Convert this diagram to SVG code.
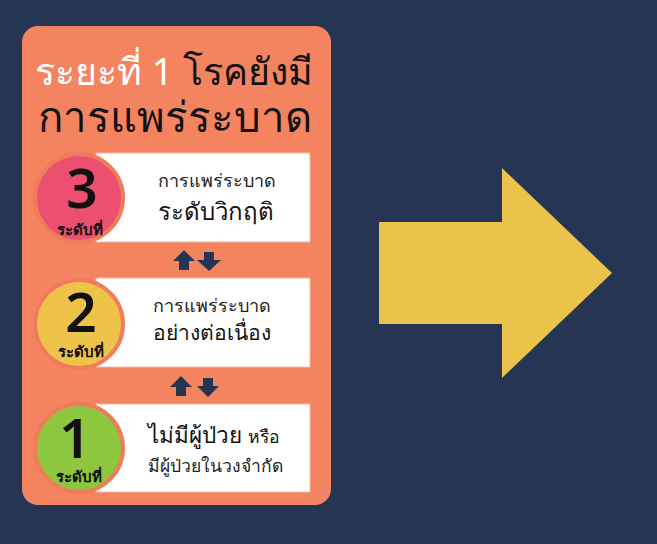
<svg xmlns="http://www.w3.org/2000/svg" width="657" height="544" viewBox="0 0 657 544">
<style>
text{font-family:"Noto Sans","Noto Sans CJK SC",sans-serif;}
.box{fill:#ffffff;stroke:#f7b8a0;stroke-width:1;}
.ring{stroke:#f07c5a;stroke-width:4;}
.num{font-size:55px;font-weight:600;fill:#111111;text-anchor:middle;}
.lvl{font-size:15px;font-weight:600;fill:#111111;text-anchor:middle;}
.t1{font-size:18px;fill:#222222;}
.t2{font-size:24px;fill:#111111;}
.sm{fill:#243452;}
</style>
<rect width="657" height="544" fill="#253553"/>
<g id="panel">
<rect x="22" y="26" width="309" height="479" rx="16" fill="#f4845f"/>
<text x="35" y="85" font-size="37.5" fill="#ffffff">ระยะที่ 1 <tspan fill="#111111">โรคยังมี</tspan></text>
<text x="38" y="132" font-size="42" fill="#111111">การแพร่ระบาด</text>
</g>
<g id="level3">
<rect class="box" x="96" y="153" width="214" height="89"/>
<circle class="ring" cx="79" cy="198" r="44" fill="#ec4f70"/>
<text class="num" x="82" y="208">3</text>
<text class="lvl" x="80" y="235">ระดับที่</text>
<text class="t1" x="158" y="187">การแพร่ระบาด</text>
<text class="t2" x="158" y="220">ระดับวิกฤติ</text>
</g>
<g id="level2">
<rect class="box" x="96" y="278" width="214" height="89"/>
<circle class="ring" cx="79" cy="324" r="44" fill="#eec34a"/>
<text class="num" x="81" y="332">2</text>
<text class="lvl" x="81" y="357">ระดับที่</text>
<text class="t1" x="153" y="312">การแพร่ระบาด</text>
<text class="t2" x="153" y="340" style="font-size:21px">อย่างต่อเนื่อง</text>
</g>
<g id="level1">
<rect class="box" x="96" y="404" width="214" height="88"/>
<circle class="ring" cx="79" cy="448" r="44" fill="#8dc63f"/>
<text class="num" x="75" y="458">1</text>
<text class="lvl" x="79" y="482">ระดับที่</text>
<text class="t2" x="148" y="443" style="font-size:22.5px">ไม่มีผู้ป่วย <tspan style="font-size:17.5px">หรือ</tspan></text>
<text class="t1" x="148" y="472" style="font-size:17.5px">มีผู้ป่วยในวงจำกัด</text>
</g>
<g id="connectors">
<path class="sm" d="M184,250 L195,261 L189,261 L189,270 L179,270 L179,261 L173,261 Z"/>
<path class="sm" d="M209,271 L221,260 L214,260 L214,252 L204,252 L204,260 L197,260 Z"/>
<path class="sm" d="M181,376 L192,387 L186,387 L186,396 L176,396 L176,387 L170,387 Z"/>
<path class="sm" d="M208,397 L219,386 L213,386 L213,378 L203,378 L203,386 L197,386 Z"/>
<path id="bigarrow" d="M379,222 L502,222 L502,168 L612,273 L502,378 L502,324 L379,324 Z" fill="#ebc34a"/>
</g>
</svg>
